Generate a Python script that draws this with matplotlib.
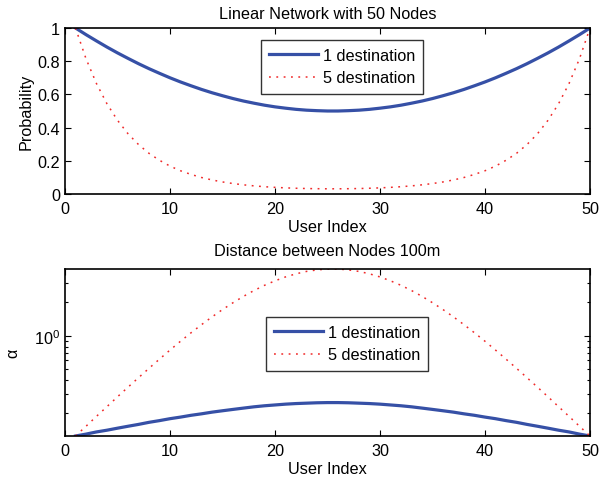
import matplotlib
matplotlib.use("Agg")
import matplotlib.pyplot as plt
from matplotlib.ticker import LogLocator, NullFormatter

plt.rcParams["font.family"] = ["Liberation Sans", "DejaVu Sans"]
plt.rcParams["font.size"] = 11.7

user_index = list(range(1, 51))

prob_1dest = [1.000, 0.960, 0.922, 0.885, 0.850, 0.817, 0.785, 0.755, 0.727, 0.700,
              0.675, 0.652, 0.630, 0.610, 0.592, 0.575, 0.560, 0.547, 0.535, 0.525,
              0.517, 0.510, 0.505, 0.502, 0.500, 0.500, 0.502, 0.505, 0.510, 0.517,
              0.525, 0.535, 0.547, 0.560, 0.575, 0.592, 0.610, 0.630, 0.652, 0.675,
              0.700, 0.727, 0.755, 0.785, 0.817, 0.850, 0.885, 0.922, 0.960, 1.000]
prob_5dest = [1.000, 0.815, 0.665, 0.543, 0.444, 0.363, 0.298, 0.245, 0.203, 0.168,
              0.140, 0.118, 0.0994, 0.0846, 0.0726, 0.0630, 0.0552, 0.0489, 0.0439, 0.0400,
              0.0369, 0.0346, 0.0329, 0.0319, 0.0313, 0.0313, 0.0319, 0.0329, 0.0346, 0.0369,
              0.0400, 0.0439, 0.0489, 0.0552, 0.0630, 0.0726, 0.0846, 0.0994, 0.118, 0.140,
              0.168, 0.203, 0.245, 0.298, 0.363, 0.444, 0.543, 0.665, 0.815, 1.000]

alpha_1dest = [0.125, 0.130, 0.136, 0.141, 0.147, 0.153, 0.159, 0.166, 0.172, 0.179,
               0.185, 0.192, 0.198, 0.205, 0.211, 0.217, 0.223, 0.229, 0.234, 0.238,
               0.242, 0.245, 0.247, 0.249, 0.250, 0.250, 0.249, 0.247, 0.245, 0.242,
               0.238, 0.234, 0.229, 0.223, 0.217, 0.211, 0.205, 0.198, 0.192, 0.185,
               0.179, 0.172, 0.166, 0.159, 0.153, 0.147, 0.141, 0.136, 0.130, 0.125]
alpha_5dest = [0.125, 0.153, 0.188, 0.230, 0.282, 0.344, 0.419, 0.509, 0.616, 0.743,
               0.892, 1.063, 1.258, 1.478, 1.722, 1.984, 2.265, 2.556, 2.847, 3.125,
               3.388, 3.613, 3.799, 3.919, 3.994, 3.994, 3.919, 3.799, 3.613, 3.388,
               3.125, 2.847, 2.556, 2.265, 1.984, 1.722, 1.478, 1.258, 1.063, 0.892,
               0.743, 0.616, 0.509, 0.419, 0.344, 0.282, 0.230, 0.188, 0.153, 0.125]

legend_labels = ["1 destination", "5 destination"]

blue = "#3650a6"
red = "#f02a2a"

fig = plt.figure(figsize=(6.13, 4.81), dpi=100)
ax1 = fig.add_axes([65 / 613, 286 / 481, 525 / 613, 166 / 481])
ax2 = fig.add_axes([65 / 613, 44 / 481, 525 / 613, 167 / 481])

for ax in (ax1, ax2):
    ax.tick_params(direction="in", top=True, right=True, length=4, width=0.8, labelsize=11.7)
    ax.tick_params(axis="x", pad=5)
    ax.tick_params(which="minor", direction="in", right=True, length=2.5, width=0.8)
    for s in ax.spines.values():
        s.set_linewidth(1.2)

legend_kw = dict(loc="upper left", frameon=True, fancybox=False, edgecolor="black",
                 fontsize=11.7, handlelength=3.0, handletextpad=0.3, borderpad=0.5,
                 labelspacing=0.45, borderaxespad=0)

# top: probability
ax1.plot(user_index, prob_1dest, color=blue, lw=2.3, label=legend_labels[0])
ax1.plot(user_index, prob_5dest, color=red, lw=1.1, dashes=(1.2, 3.6), label=legend_labels[1])
ax1.set_xlim(0, 50)
ax1.set_ylim(0, 1)
ax1.set_xticks([0, 10, 20, 30, 40, 50])
ax1.set_yticks([0, 0.2, 0.4, 0.6, 0.8, 1])
ax1.set_yticklabels(["0", "0.2", "0.4", "0.6", "0.8", "1"])
ax1.set_title("Linear Network with 50 Nodes", fontsize=11.7, pad=7)
ax1.set_xlabel("User Index", fontsize=11.7, labelpad=2)
ax1.set_ylabel("Probability", fontsize=11.7, labelpad=3)
leg1 = ax1.legend(bbox_to_anchor=(261 / 613, 1 - 41 / 481), bbox_transform=fig.transFigure, **legend_kw)
leg1.get_frame().set_linewidth(1.0)

# bottom: alpha (log scale)
ax2.plot(user_index, alpha_1dest, color=blue, lw=2.3, label=legend_labels[0])
ax2.plot(user_index, alpha_5dest, color=red, lw=1.1, dashes=(1.2, 3.6), label=legend_labels[1])
ax2.set_yscale("log")
ax2.set_xlim(0, 50)
ax2.set_ylim(min(alpha_1dest), max(alpha_5dest))
ax2.set_xticks([0, 10, 20, 30, 40, 50])
ax2.yaxis.set_major_locator(LogLocator(base=10, numticks=5))
ax2.yaxis.set_minor_locator(LogLocator(base=10, subs=range(2, 10), numticks=10))
ax2.yaxis.set_minor_formatter(NullFormatter())
ax2.set_title("Distance between Nodes 100m", fontsize=11.7, pad=10)
ax2.set_xlabel("User Index", fontsize=11.7, labelpad=2)
ax2.set_ylabel("\u03b1", fontsize=11.7, labelpad=10)
leg2 = ax2.legend(bbox_to_anchor=(266 / 613, 1 - 318 / 481), bbox_transform=fig.transFigure, **legend_kw)
leg2.get_frame().set_linewidth(1.0)

fig.savefig("out.png", dpi=100)
